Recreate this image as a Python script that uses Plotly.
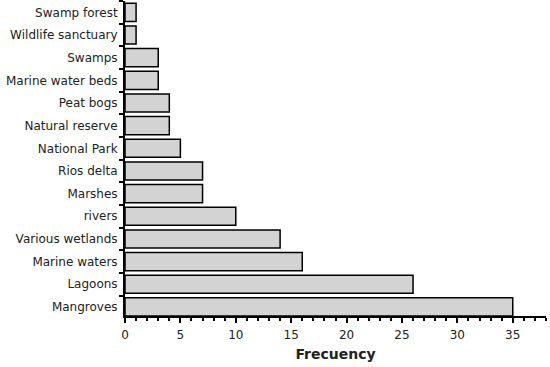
import plotly.graph_objects as go

categories = ["Mangroves", "Lagoons", "Marine waters", "Various wetlands", "rivers",
              "Marshes", "Rios delta", "National Park", "Natural reserve", "Peat bogs",
              "Marine water beds", "Swamps", "Wildlife sanctuary", "Swamp forest"]
frequency = [35, 26, 16, 14, 10, 7, 7, 5, 4, 4, 3, 3, 1, 1]
x_ticks = [0, 5, 10, 15, 20, 25, 30, 35]

fig = go.Figure(go.Bar(
    x=frequency, y=categories, orientation="h",
    marker=dict(color="#d3d3d3", line=dict(color="black", width=1.5)),
    width=0.8,
))

font = "DejaVu Sans, Arial, sans-serif"
fig.update_layout(
    width=550, height=367,
    margin=dict(l=125, r=4, t=1, b=51),
    plot_bgcolor="white", paper_bgcolor="white",
    showlegend=False,
    font=dict(family=font, size=12, color="#222"),
    xaxis=dict(
        automargin=False,
        range=[0, 38], tickvals=x_ticks, showgrid=False, zeroline=False,
        showline=True, linecolor="black", linewidth=2,
        ticks="outside", ticklen=5, tickwidth=1.5, tickcolor="black",
        minor=dict(dtick=1, ticks="outside", ticklen=3, tickwidth=1.5, tickcolor="black", showgrid=False),
        tickfont=dict(size=12, color="#222"),
        ticklabelstandoff=2,
        title=dict(text="<b>Frecuency</b>", font=dict(size=14, color="#222"), standoff=8),
    ),
    yaxis=dict(
        automargin=False,
        categoryorder="array", categoryarray=categories,
        range=[-0.4, 13.5], showgrid=False, zeroline=False,
        showline=True, linecolor="black", linewidth=2,
        ticks="outside", tickson="boundaries", ticklen=4, tickwidth=1.5, tickcolor="black",
        tickfont=dict(size=12, color="#222"),
        ticklabelstandoff=3,
    ),
)

fig.write_html("out.html", config={"displayModeBar": False},
               post_script="document.body.style.margin='0';")
